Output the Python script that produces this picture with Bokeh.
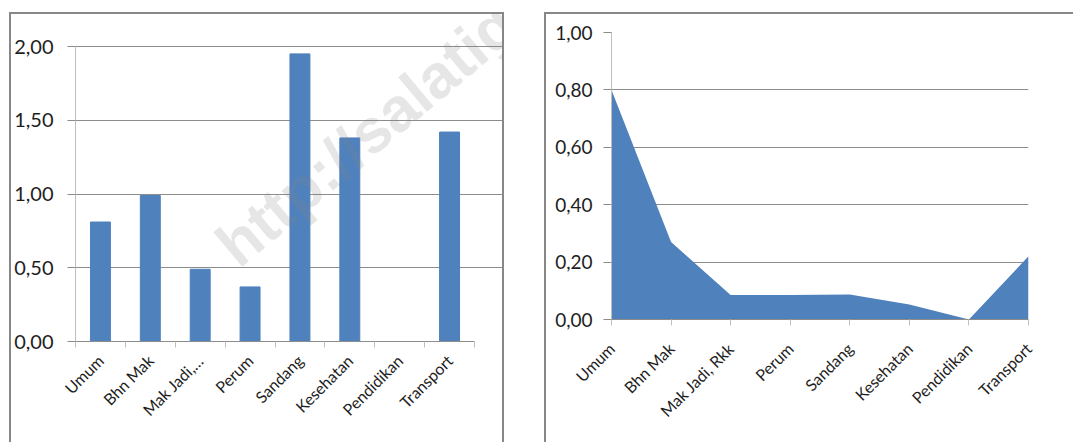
from math import pi, radians
from bokeh.plotting import figure
from bokeh.layouts import row
from bokeh.models import Range1d, FixedTicker, CustomJSTickFormatter, Label
from bokeh.embed import file_html
from bokeh.resources import INLINE

# ---- data ----
categories = ["Umum", "Bhn Mak", "Mak Jadi, Rkk", "Perum", "Sandang",
              "Kesehatan", "Pendidikan", "Transport"]
bar_labels = ["Umum", "Bhn Mak", "Mak Jadi,\u2026", "Perum", "Sandang",
              "Kesehatan", "Pendidikan", "Transport"]
bar_values = [0.81, 0.99, 0.49, 0.37, 1.95, 1.38, 0.00, 1.42]
area_values = [0.80, 0.27, 0.085, 0.085, 0.087, 0.052, 0.00, 0.22]
left_yticks = [0.0, 0.5, 1.0, 1.5, 2.0]
right_yticks = [0.0, 0.2, 0.4, 0.6, 0.8, 1.0]

FONT = "Lato"
BLUE = "#4F81BD"
GRID = "#8c8c8c"
AXIS_LIGHT = "#bfbfbf"
TXT = "#1e1e1e"
BORDER = "#878787"

fmt = CustomJSTickFormatter(code="return tick.toFixed(2).replace('.', ',');")

n = len(categories)
ymax_left = max(left_yticks)

# ---- left: bar chart ----
# frame spans the whole upper/right part of the panel (so the watermark is not
# clipped); the axis lines are bounded to the data extent.
p1 = figure(width=495, height=430,
            x_range=Range1d(0, n * 429 / 399), y_range=Range1d(0, ymax_left * 329 / 295),
            output_backend="svg", toolbar_location=None,
            min_border_left=66, min_border_right=0, min_border_top=0,
            min_border_bottom=101, margin=(12, 0, 0, 9), frame_align=False)
centers = [i + 0.5 for i in range(n)]
p1.vbar(x=centers, top=bar_values, width=0.4, fill_color=BLUE, line_color=BLUE)

p1.xgrid.visible = False
p1.ygrid.ticker = FixedTicker(ticks=left_yticks)
p1.ygrid.grid_line_color = GRID
p1.ygrid.bounds = (0, n)

p1.yaxis.ticker = FixedTicker(ticks=left_yticks)
p1.yaxis.bounds = (0, ymax_left)
p1.yaxis.formatter = fmt
p1.yaxis.axis_line_color = AXIS_LIGHT
p1.yaxis.major_tick_line_color = GRID
p1.yaxis.major_tick_out = 8
p1.yaxis.major_tick_in = 0
p1.yaxis.minor_tick_line_color = None
p1.yaxis.major_label_standoff = 14
p1.yaxis.major_label_text_font = FONT
p1.yaxis.major_label_text_font_size = "20px"
p1.yaxis.major_label_text_color = TXT

p1.xaxis.ticker = FixedTicker(ticks=centers, minor_ticks=list(range(n + 1)))
p1.xaxis.bounds = (0, n)
p1.xaxis.major_label_overrides = {c: lbl for c, lbl in zip(centers, bar_labels)}
p1.xaxis.major_tick_line_color = None
p1.xaxis.minor_tick_line_color = AXIS_LIGHT
p1.xaxis.minor_tick_out = 6
p1.xaxis.minor_tick_in = 0
p1.xaxis.axis_line_color = GRID
p1.xaxis.major_label_orientation = pi / 4
p1.xaxis.major_label_standoff = 10
p1.xaxis.major_label_text_font = FONT
p1.xaxis.major_label_text_font_size = "16px"
p1.xaxis.major_label_text_color = TXT

p1.outline_line_color = None
p1.border_fill_color = None
p1.background_fill_color = None
p1.styles = {"background-color": "white",
             "box-shadow": f"inset 2px 0 0 {BORDER}, inset -2px 0 0 {BORDER}, inset 0 2px 0 {BORDER}"}

wm = Label(x=3.0, y=0.6, text="http://salatiga", angle=radians(40),
           text_font="Liberation Sans", text_font_style="bold",
           text_baseline="alphabetic",
           text_font_size="62px", text_color="#808080", text_alpha=0.2)
p1.add_layout(wm)

# ---- right: area chart ----
p2 = figure(width=529, height=430, x_range=Range1d(0, n - 1), y_range=Range1d(0, 1),
            output_backend="svg", toolbar_location=None,
            min_border_left=67, min_border_right=45, min_border_top=20,
            min_border_bottom=123, margin=(12, 0, 0, 40), frame_align=False)
xs = list(range(n))
p2.varea(x=xs, y1=[0] * n, y2=area_values, fill_color=BLUE)

p2.xgrid.visible = False
p2.ygrid.ticker = FixedTicker(ticks=right_yticks)
p2.ygrid.grid_line_color = GRID

p2.yaxis.ticker = FixedTicker(ticks=right_yticks)
p2.yaxis.formatter = fmt
p2.yaxis.axis_line_color = AXIS_LIGHT
p2.yaxis.major_tick_line_color = GRID
p2.yaxis.major_tick_out = 8
p2.yaxis.major_tick_in = 0
p2.yaxis.minor_tick_line_color = None
p2.yaxis.major_label_standoff = 11
p2.yaxis.major_label_text_font = FONT
p2.yaxis.major_label_text_font_size = "19px"
p2.yaxis.major_label_text_color = TXT

p2.xaxis.ticker = FixedTicker(ticks=xs, minor_ticks=[])
p2.xaxis.major_label_overrides = {x: c for x, c in zip(xs, categories)}
p2.xaxis.major_tick_line_color = AXIS_LIGHT
p2.xaxis.major_tick_out = 6
p2.xaxis.major_tick_in = 0
p2.xaxis.axis_line_color = GRID
p2.xaxis.major_label_orientation = pi / 4
p2.xaxis.major_label_standoff = 20
p2.xaxis.major_label_text_font = FONT
p2.xaxis.major_label_text_font_size = "16px"
p2.xaxis.major_label_text_color = TXT

p2.outline_line_color = None
p2.border_fill_color = None
p2.background_fill_color = "white"
p2.styles = {"background-color": "white",
             "box-shadow": f"inset 2px 0 0 {BORDER}, inset 0 2px 0 {BORDER}"}

layout = row(p1, p2, spacing=0)
open("out.html", "w").write(file_html(layout, INLINE))
